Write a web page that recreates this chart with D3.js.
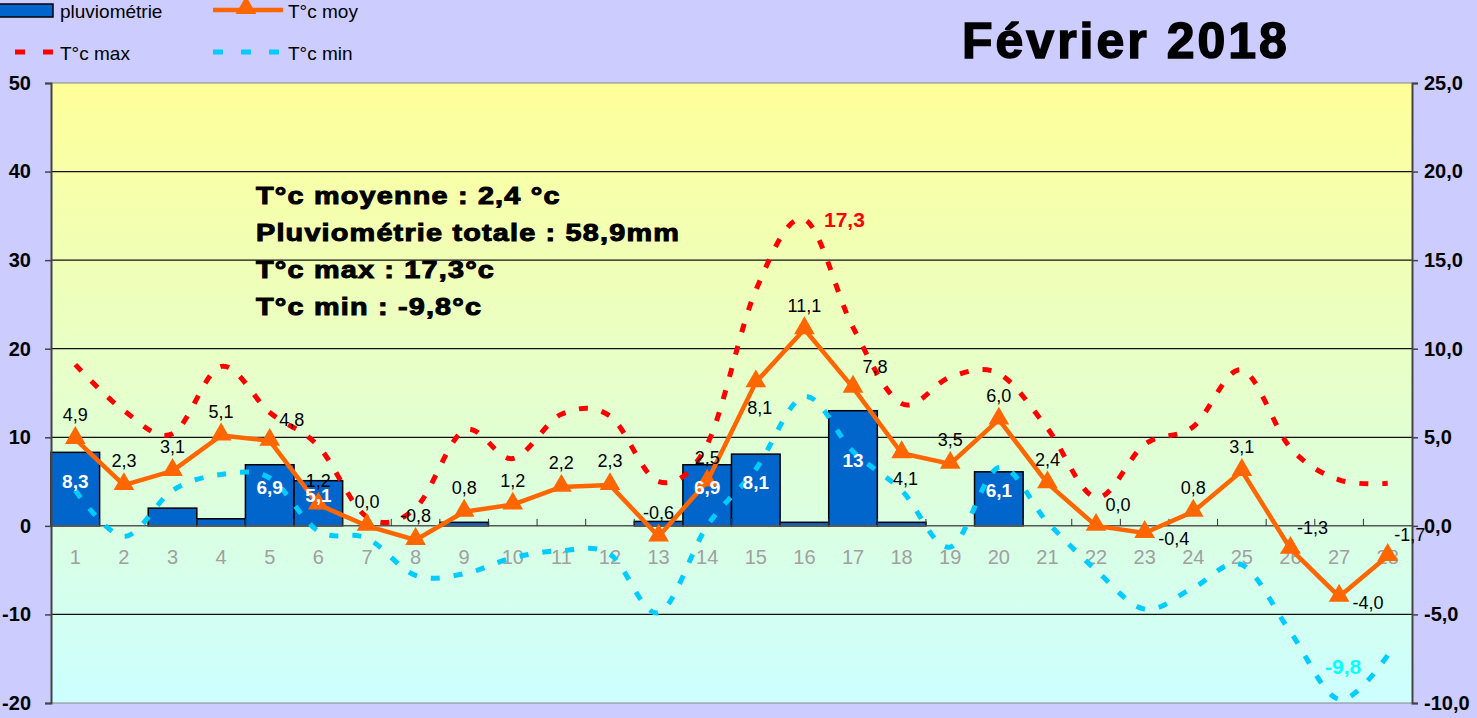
<!DOCTYPE html>
<html>
<head>
<meta charset="utf-8">
<script src="https://cdn.jsdelivr.net/npm/d3@7"></script>
<style>
    body { margin: 0; background: #ccccff; }
    svg { display: block; font-family: "Liberation Sans", Arial, sans-serif; }
</style>
</head>
<body>
<svg id="chart" width="1477" height="718"></svg>
<script>
var days = d3.range(1, 29);
var pluvio = [8.3, 0, 2.0, 0.8, 6.9, 5.1, 0, 0, 0.4, 0, 0, 0, 0.5, 6.9, 8.1, 0.4, 13, 0.4, 0, 6.1, 0, 0, 0, 0, 0, 0, 0, 0];
var tMoy = [4.9, 2.3, 3.1, 5.1, 4.8, 1.2, 0.0, -0.8, 0.8, 1.2, 2.2, 2.3, -0.6, 2.5, 8.1, 11.1, 7.8, 4.1, 3.5, 6.0, 2.4, 0.0, -0.4, 0.8, 3.1, -1.3, -4.0, -1.7];
var tMax = [9.1, 6.5, 5.2, 9.0, 6.4, 4.5, 0.5, 1.0, 5.4, 3.8, 6.3, 6.2, 2.5, 4.6, 13.3, 17.3, 11.2, 6.9, 8.4, 8.6, 5.5, 1.6, 4.6, 5.6, 8.8, 4.4, 2.6, 2.4];
var tMin = [2.0, -0.6, 2.0, 2.9, 2.7, -0.3, -0.7, -2.8, -2.7, -1.8, -1.4, -1.6, -4.9, 0.0, 3.2, 7.3, 4.2, 2.0, -1.2, 3.3, 0.2, -2.5, -4.7, -3.5, -2.2, -6.0, -9.8, -7.3];
// where each T moy label sits: a = above, ar = above right, r = right, b = below
var moyPlace = ['a', 'a', 'a', 'a', 'ar', 'a', 'a', 'a', 'a', 'a', 'a', 'a', 'a', 'a', 'b', 'a', 'ar', 'b', 'a', 'a', 'a', 'ar', 'r', 'a', 'a', 'ar', 'r', 'ar'];
var rainTicks = [-20, -10, 0, 10, 20, 30, 40, 50];
var tempTicks = [-10, -5, 0, 5, 10, 15, 20, 25];
var notes = ['T°c moyenne : 2,4 °c', 'Pluviométrie totale : 58,9mm', 'T°c max : 17,3°c', 'T°c min : -9,8°c'];

var plotLeft = 51, plotRight = 1412, plotTop = 83, plotBottom = 703;
var svg = d3.select('#chart');

function comma(v) {
    return String(v).replace('.', ',');
}
function fmt1(v) {
    return d3.format('.1f')(v).replace('.', ',').replace('−', '-');
}

var x = d3.scaleBand().domain(days).range([plotLeft, plotRight]).padding(0);
var yRain = d3.scaleLinear().domain([-20, 50]).range([plotBottom, plotTop]);
var yTemp = d3.scaleLinear().domain([-10, 25]).range([plotBottom, plotTop]);
function cx(d) { return x(d) + x.bandwidth() / 2; }

// plot background
var grad = svg.append('defs').append('linearGradient')
    .attr('id', 'bg')
    .attr('x1', 0).attr('y1', 0).attr('x2', 0).attr('y2', 1);
grad.append('stop').attr('offset', '0%').style('stop-color', '#ffff99');
grad.append('stop').attr('offset', '100%').style('stop-color', '#ccffff');

svg.append('rect')
    .attr('x', plotLeft).attr('y', plotTop)
    .attr('width', plotRight - plotLeft).attr('height', plotBottom - plotTop)
    .attr('fill', 'url(#bg)');

// grid lines
svg.append('g').selectAll('line')
    .data(rainTicks.filter(function(d) { return d != 0; }))
    .enter().append('line')
    .attr('x1', plotLeft).attr('x2', plotRight)
    .attr('y1', function(d) { return yRain(d); })
    .attr('y2', function(d) { return yRain(d); })
    .attr('stroke', function(d) { return (d == 50 || d == -20) ? '#888' : '#111'; })
    .attr('stroke-width', 1.2);

// bars
svg.append('g').selectAll('rect')
    .data(days.filter(function(d, i) { return pluvio[i] > 0; }))
    .enter().append('rect')
    .attr('x', function(d) { return x(d); })
    .attr('width', x.bandwidth())
    .attr('y', function(d) { return yRain(pluvio[d - 1]); })
    .attr('height', function(d) { return yRain(0) - yRain(pluvio[d - 1]); })
    .attr('fill', '#0066cc')
    .attr('stroke', '#000')
    .attr('stroke-width', 1.5);

// category axis on zero line
var zeroY = yRain(0);
svg.append('line')
    .attr('x1', plotLeft).attr('x2', plotRight)
    .attr('y1', zeroY).attr('y2', zeroY)
    .attr('stroke', '#555').attr('stroke-width', 1.5);
svg.append('g').selectAll('line')
    .data(days.slice(1))
    .enter().append('line')
    .attr('x1', function(d) { return x(d); })
    .attr('x2', function(d) { return x(d); })
    .attr('y1', zeroY).attr('y2', zeroY - 7)
    .attr('stroke', '#333').attr('stroke-width', 1);

var xAxis = svg.append('g')
    .attr('transform', 'translate(0,' + zeroY + ')')
    .call(d3.axisBottom(x).tickSize(0).tickPadding(24));
xAxis.select('.domain').remove();
xAxis.selectAll('text')
    .attr('fill', '#a0a0a0')
    .style('font-size', '20px')
    .style('font-family', '"Liberation Sans", Arial, sans-serif');

// left axis
var yAxisL = svg.append('g')
    .attr('transform', 'translate(' + plotLeft + ',0)')
    .call(d3.axisLeft(yRain).tickValues(rainTicks).tickSize(6).tickPadding(14).tickFormat(d3.format('d')));
yAxisL.select('.domain').attr('stroke', '#444').attr('stroke-width', 2);
yAxisL.selectAll('.tick line').attr('stroke', '#444').attr('stroke-width', 1.5);
yAxisL.selectAll('text')
    .attr('fill', '#000')
    .text(function(d) { return String(d).replace('−', '-'); })
    .style('font-size', '20px').style('font-weight', 'bold')
    .style('font-family', '"Liberation Sans", Arial, sans-serif');

// right axis
var yAxisR = svg.append('g')
    .attr('transform', 'translate(' + plotRight + ',0)')
    .call(d3.axisRight(yTemp).tickValues(tempTicks).tickSize(6).tickPadding(6).tickFormat(fmt1));
yAxisR.select('.domain').attr('stroke', '#444').attr('stroke-width', 2);
yAxisR.selectAll('.tick line').attr('stroke', '#444').attr('stroke-width', 1.5);
yAxisR.selectAll('text')
    .attr('fill', '#000')
    .style('font-size', '20px').style('font-weight', 'bold')
    .style('font-family', '"Liberation Sans", Arial, sans-serif');

// T max / T min smoothed dashed lines
var smooth = d3.curveCardinal.tension(0);
var lineMax = d3.line()
    .x(function(d) { return cx(d); })
    .y(function(d) { return yTemp(tMax[d - 1]); })
    .curve(smooth);
var lineMin = d3.line()
    .x(function(d) { return cx(d); })
    .y(function(d) { return yTemp(tMin[d - 1]); })
    .curve(smooth);

svg.append('path')
    .attr('d', lineMax(days))
    .attr('fill', 'none')
    .attr('stroke', '#ff0000')
    .attr('stroke-width', 5)
    .attr('stroke-dasharray', '9,14');
svg.append('path')
    .attr('d', lineMin(days))
    .attr('fill', 'none')
    .attr('stroke', '#00ccff')
    .attr('stroke-width', 5)
    .attr('stroke-dasharray', '9,14');

// T moy line with triangles
var lineMoy = d3.line()
    .x(function(d) { return cx(d); })
    .y(function(d) { return yTemp(tMoy[d - 1]); });
svg.append('path')
    .attr('d', lineMoy(days))
    .attr('fill', 'none')
    .attr('stroke', '#ff6600')
    .attr('stroke-width', 4.5)
    .attr('stroke-linejoin', 'round');

var tri = d3.symbol().type(d3.symbolTriangle).size(185);
svg.append('g').selectAll('path')
    .data(days)
    .enter().append('path')
    .attr('d', tri)
    .attr('transform', function(d) { return 'translate(' + cx(d) + ',' + (yTemp(tMoy[d - 1]) - 1) + ')'; })
    .attr('fill', '#ff6600');

// bar labels
svg.append('g').selectAll('text')
    .data(days.filter(function(d, i) { return pluvio[i] >= 5; }))
    .enter().append('text')
    .attr('x', function(d) { return cx(d); })
    .attr('y', function(d) { return (yRain(pluvio[d - 1]) + zeroY) / 2 - 8; })
    .attr('dy', '0.35em')
    .attr('text-anchor', 'middle')
    .attr('fill', '#fff')
    .style('font-size', '19px').style('font-weight', 'bold')
    .text(function(d) { return comma(pluvio[d - 1]); });

// T moy labels
var offsets = { a: [0, -24], ar: [22, -21], r: [29, 6], b: [4, 25] };
svg.append('g').selectAll('text')
    .data(days)
    .enter().append('text')
    .attr('x', function(d) { return cx(d) + offsets[moyPlace[d - 1]][0]; })
    .attr('y', function(d) { return yTemp(tMoy[d - 1]) + offsets[moyPlace[d - 1]][1]; })
    .attr('dy', '0.35em')
    .attr('text-anchor', 'middle')
    .attr('fill', '#000')
    .style('font-size', '18px')
    .text(function(d) { return fmt1(tMoy[d - 1]); });

// extreme labels
var iMax = d3.maxIndex(tMax), iMin = d3.minIndex(tMin);
svg.append('text')
    .attr('x', cx(days[iMax]) + 40).attr('y', yTemp(tMax[iMax]))
    .attr('dy', '0.35em').attr('text-anchor', 'middle')
    .attr('fill', '#ff0000')
    .style('font-size', '21px').style('font-weight', 'bold')
    .text(comma(tMax[iMax]));
svg.append('text')
    .attr('x', cx(days[iMin]) + 4).attr('y', yTemp(tMin[iMin]) - 33)
    .attr('dy', '0.35em').attr('text-anchor', 'middle')
    .attr('fill', '#00ffff')
    .style('font-size', '21px').style('font-weight', 'bold')
    .text(comma(tMin[iMin]));

// summary text
svg.append('g')
    .attr('transform', 'translate(256,0) scale(1.2,1)')
    .selectAll('text')
    .data(notes)
    .enter().append('text')
    .attr('x', 0)
    .attr('y', function(d, i) { return 204 + i * 37; })
    .attr('fill', '#000')
    .attr('stroke', '#000').attr('stroke-width', 1)
    .style('font-size', '24px').style('font-weight', 'bold')
    .style('letter-spacing', '1px')
    .text(function(d) { return d; });

// title
svg.append('text')
    .attr('x', 962).attr('y', 58)
    .attr('fill', '#000')
    .attr('stroke', '#000').attr('stroke-width', 1.5)
    .style('font-size', '50px').style('font-weight', 'bold')
    .style('letter-spacing', '3px')
    .text('Février 2018');

// legend
var lg = svg.append('g').style('font-size', '19px');
lg.append('rect').attr('x', -2).attr('y', 4).attr('width', 55).attr('height', 13)
    .attr('fill', '#0066cc').attr('stroke', '#000').attr('stroke-width', 1.5);
lg.append('text').attr('x', 60).attr('y', 11).attr('dy', '0.35em').text('pluviométrie');

lg.append('line').attr('x1', 213).attr('x2', 283).attr('y1', 10).attr('y2', 10)
    .attr('stroke', '#ff6600').attr('stroke-width', 4.5);
lg.append('path').attr('d', tri).attr('transform', 'translate(246,8)').attr('fill', '#ff6600');
lg.append('text').attr('x', 288).attr('y', 11).attr('dy', '0.35em').text('T°c moy');

lg.append('line').attr('x1', 15).attr('x2', 54).attr('y1', 52).attr('y2', 52)
    .attr('stroke', '#ff0000').attr('stroke-width', 5).attr('stroke-dasharray', '10,18');
lg.append('text').attr('x', 60).attr('y', 53).attr('dy', '0.35em').text('T°c max');

lg.append('line').attr('x1', 213).attr('x2', 281).attr('y1', 52).attr('y2', 52)
    .attr('stroke', '#00ccff').attr('stroke-width', 5).attr('stroke-dasharray', '10,18');
lg.append('text').attr('x', 288).attr('y', 53).attr('dy', '0.35em').text('T°c min');
</script>
</body>
</html>
